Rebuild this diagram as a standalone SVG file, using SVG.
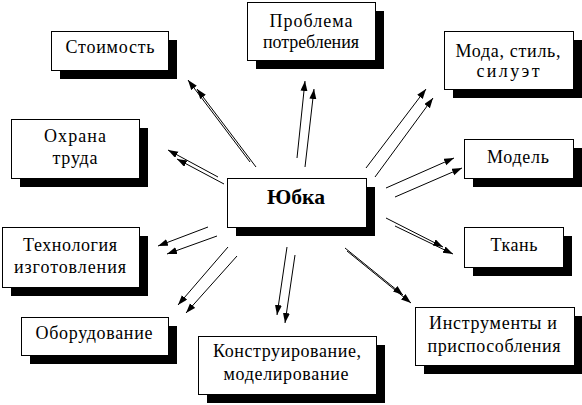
<svg xmlns="http://www.w3.org/2000/svg" width="582" height="405" viewBox="0 0 582 405">
<style>
.sh{fill:#000}
.bx{fill:#fff;stroke:#000;stroke-width:1}
.t{font-family:"Liberation Serif","Times New Roman",serif;font-size:18px;fill:#000;text-anchor:middle}
.tb{font-family:"Liberation Serif","Times New Roman",serif;font-size:22px;font-weight:bold;fill:#000;text-anchor:middle}
.c line{stroke:#000;stroke-width:1;marker-end:url(#ah)}
</style>
<defs>
<marker id="ah" markerUnits="userSpaceOnUse" markerWidth="11" markerHeight="8" refX="10" refY="3.5" orient="auto">
<path d="M0,0 L10,3.5 L0,7 z" fill="#000"/>
</marker>
</defs>
<rect width="582" height="405" fill="#fff"/>
<g class="c" id="connectors">
<line x1="250" y1="162" x2="188" y2="80"/>
<line x1="256" y1="167" x2="197" y2="89"/>
<line x1="218" y1="177" x2="168" y2="150"/>
<line x1="224" y1="184" x2="177" y2="159"/>
<line x1="297" y1="158" x2="305" y2="81"/>
<line x1="305" y1="167" x2="314" y2="89"/>
<line x1="366" y1="168" x2="426" y2="89"/>
<line x1="375" y1="177" x2="433" y2="98"/>
<line x1="386" y1="188" x2="454" y2="158"/>
<line x1="395" y1="197" x2="462" y2="168"/>
<line x1="208" y1="227" x2="158" y2="246"/>
<line x1="217" y1="236" x2="167" y2="254"/>
<line x1="228" y1="247" x2="178" y2="305"/>
<line x1="237" y1="256" x2="186" y2="313"/>
<line x1="287" y1="247" x2="277" y2="315"/>
<line x1="295" y1="255" x2="285" y2="323"/>
<line x1="386" y1="218" x2="443" y2="247"/>
<line x1="395" y1="226" x2="453" y2="254"/>
<line x1="345" y1="248" x2="403" y2="295"/>
<line x1="347" y1="251" x2="411" y2="303"/>
</g>
<g id="n-stoimost">
<rect class="sh" x="60" y="40" width="117" height="39"/>
<rect class="bx" x="51.5" y="31.5" width="117" height="39"/>
<text class="t" x="110" y="53" textLength="89" lengthAdjust="spacing">Стоимость</text>
</g>
<g id="n-ohrana">
<rect class="sh" x="20" y="128" width="128" height="59"/>
<rect class="bx" x="11.5" y="119.5" width="128" height="59"/>
<text class="t" x="75" y="142" textLength="62" lengthAdjust="spacing">Охрана</text>
<text class="t" x="75" y="164" textLength="45" lengthAdjust="spacing">труда</text>
</g>
<g id="n-problema">
<rect class="sh" x="256" y="11" width="128" height="58"/>
<rect class="bx" x="247.5" y="2.5" width="128" height="58"/>
<text class="t" x="311" y="27" textLength="83" lengthAdjust="spacing">Проблема</text>
<text class="t" x="311" y="48" textLength="96" lengthAdjust="spacing">потребления</text>
</g>
<g id="n-moda">
<rect class="sh" x="453" y="40" width="129" height="58"/>
<rect class="bx" x="444.5" y="31.5" width="129" height="58"/>
<text class="t" x="508" y="57" textLength="105" lengthAdjust="spacing">Мода, стиль,</text>
<text class="t" x="508" y="77" textLength="63" lengthAdjust="spacing">силуэт</text>
</g>
<g id="n-model">
<rect class="sh" x="473" y="148" width="109" height="39"/>
<rect class="bx" x="464.5" y="139.5" width="109" height="39"/>
<text class="t" x="518" y="163" textLength="62" lengthAdjust="spacing">Модель</text>
</g>
<g id="n-yubka">
<rect class="sh" x="236" y="187" width="139" height="49"/>
<rect class="bx" x="227.5" y="178.5" width="139" height="49"/>
<text class="tb" x="296" y="204" textLength="58" lengthAdjust="spacingAndGlyphs">Юбка</text>
</g>
<g id="n-tehnologiya">
<rect class="sh" x="11" y="236" width="137" height="60"/>
<rect class="bx" x="2.5" y="227.5" width="137" height="60"/>
<text class="t" x="70" y="251" textLength="94" lengthAdjust="spacing">Технология</text>
<text class="t" x="70" y="273" textLength="112" lengthAdjust="spacing">изготовления</text>
</g>
<g id="n-oborudovanie">
<rect class="sh" x="30" y="326" width="147" height="38"/>
<rect class="bx" x="21.5" y="317.5" width="147" height="38"/>
<text class="t" x="94" y="339" textLength="117" lengthAdjust="spacing">Оборудование</text>
</g>
<g id="n-konstruirovanie">
<rect class="sh" x="207" y="345" width="178" height="58"/>
<rect class="bx" x="198.5" y="336.5" width="178" height="58"/>
<text class="t" x="287" y="357" textLength="148" lengthAdjust="spacing">Конструирование,</text>
<text class="t" x="286" y="380" textLength="125" lengthAdjust="spacing">моделирование</text>
</g>
<g id="n-tkan">
<rect class="sh" x="473" y="236" width="99" height="40"/>
<rect class="bx" x="464.5" y="227.5" width="99" height="40"/>
<text class="t" x="514" y="251" textLength="47" lengthAdjust="spacing">Ткань</text>
</g>
<g id="n-instrumenty">
<rect class="sh" x="424" y="316" width="159" height="58"/>
<rect class="bx" x="415.5" y="307.5" width="159" height="58"/>
<text class="t" x="493" y="329" textLength="128" lengthAdjust="spacing">Инструменты и</text>
<text class="t" x="494" y="352" textLength="133" lengthAdjust="spacing">приспособления</text>
</g>
</svg>
